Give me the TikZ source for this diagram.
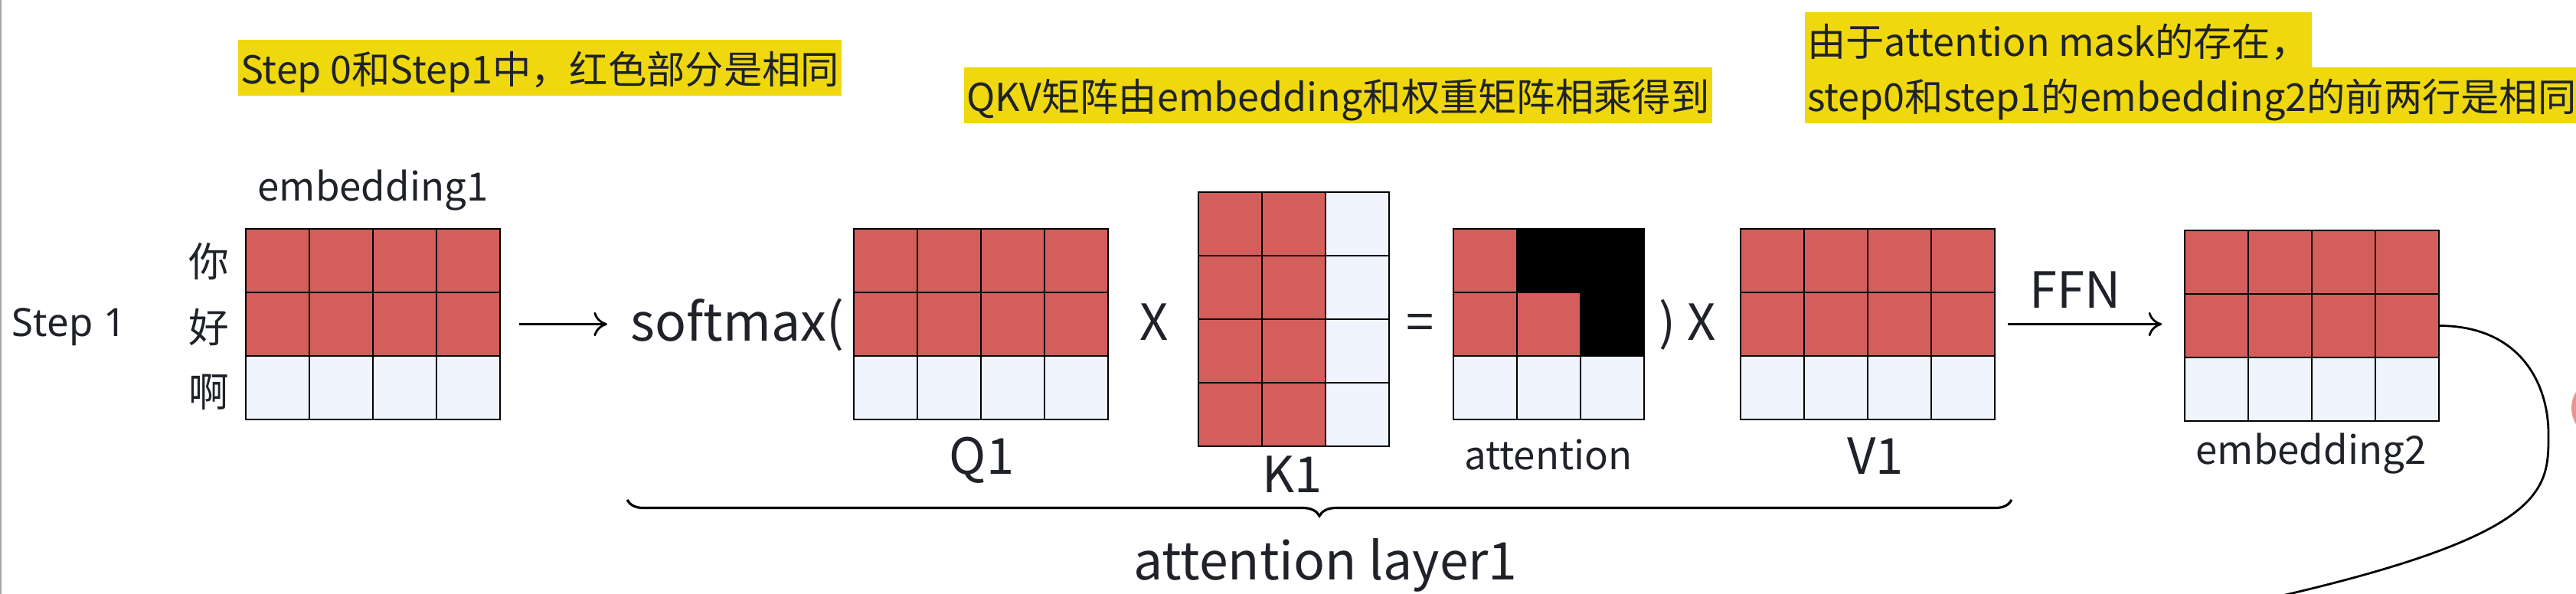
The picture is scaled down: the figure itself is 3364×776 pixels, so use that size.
\documentclass[tikz,border=0pt]{standalone}
\usepackage{fontspec}
\newfontfamily\cjk{Noto Sans CJK SC}
\newfontfamily\stepfont{Noto Sans}
\usetikzlibrary{arrows.meta,decorations.pathreplacing}
\definecolor{cellred}{HTML}{D45E5C}
\definecolor{cellblue}{HTML}{EFF4FD}
\definecolor{hlyellow}{HTML}{F0D80F}
\definecolor{ink}{HTML}{1F2329}
\tikzset{
  redcell/.style={fill=cellred, draw=black, line width=0.6pt},
  bluecell/.style={fill=cellblue, draw=black, line width=0.6pt},
  maskcell/.style={fill=black, draw=black, line width=0.6pt},
  matbox/.style={inner sep=0pt, minimum width=3.32cm, minimum height=2.49cm},
  hl/.style={fill=hlyellow, anchor=base west, inner xsep=1pt, inner ysep=0pt,
    text height=0.58cm, text depth=0.15cm, font=\cjk\fontsize{14.3pt}{18pt}\selectfont},
  midtxt/.style={inner sep=0pt, anchor=base, font=\cjk\fontsize{14.5pt}{18pt}\selectfont},
  bigtxt/.style={inner sep=0pt, anchor=base, font=\cjk\fontsize{18.5pt}{22pt}\selectfont},
  hugetxt/.style={inner sep=0pt, anchor=base, font=\cjk\fontsize{19.3pt}{23pt}\selectfont},
  arrow/.style={line width=0.8pt, -{To[length=5pt, width=9pt]}},
  link/.style={line width=0.8pt},
  underbrace/.style={line width=0.9pt, decorate, decoration={brace, mirror, amplitude=6pt}}
}
% 4 x 3 grid, first two rows red
\NewDocumentCommand\tokenmat{m m m}{%
  \foreach \c in {0,...,3}{
    \foreach \r in {0,1}
      \draw[redcell] (#2+83*\c,#3+83*\r) rectangle ++(83,83);
    \draw[bluecell] (#2+83*\c,#3+166) rectangle ++(83,83);
  }
  \node[matbox] (#1) at (#2+166,#3+124.5) {};
}

\begin{document}
\begin{tikzpicture}[x=0.01cm, y=-0.01cm, text=ink]
  \useasboundingbox (0,0) rectangle (3364,776);
  \draw[gray!70, line width=0.8pt] (1,0) -- (1,776);
  \fill[cellred!45!pink] (3398,533) circle (40);

  % notes
  \node[hl] (note1) at (310,110) {Step 0和Step1中，红色部分是相同};
  \node[hl] (note2) at (1258,146) {QKV矩阵由embedding和权重矩阵相乘得到};
  \node[hl] (note3a) at (2356,74) {由于attention mask的存在，};
  \node[hl] (note3b) at (2356,146) {step0和step1的embedding2的前两行是相同};

  % input
  \node[anchor=base, inner sep=0pt, font=\stepfont\fontsize{14.5pt}{17pt}\selectfont] (step) at (90,439) {Step 1};
  \foreach \ch [count=\i from 0] in {你,好,啊}
    \node[inner sep=0pt, font=\cjk\fontsize{15pt}{18pt}\selectfont] (row\i) at (273,342+85*\i) {\ch};
  \tokenmat{emb1}{321}{299}
  \node[midtxt] (emb1lab) at (487,262) {embedding1};

  % attention layer
  \node[hugetxt, anchor=base west] (softmax) at (823,445) {softmax(};
  \tokenmat{q1}{1115}{299}
  \node[bigtxt] (q1lab) at (1282,619) {Q1};
  \node[bigtxt] (times1) at (1507,444) {X};
  \foreach \r in {0,...,3}{
    \foreach \c in {0,1}
      \draw[redcell] (1565+83*\c,251+83*\r) rectangle ++(83,83);
    \draw[bluecell] (1731,251+83*\r) rectangle ++(83,83);
  }
  \node[matbox, minimum width=2.49cm, minimum height=3.32cm] (k1) at (1689.5,417) {};
  \node[bigtxt] (k1lab) at (1688,643) {K1};
  \node[bigtxt] (eq) at (1855,444) {=};
  \foreach \c/\r/\s in {1/0/maskcell, 2/0/maskcell, 2/1/maskcell, 0/0/redcell, 0/1/redcell,
      1/1/redcell, 0/2/bluecell, 1/2/bluecell, 2/2/bluecell}
    \draw[\s] (1898+83*\c,299+83*\r) rectangle ++(83,83);
  \node[matbox, minimum width=2.49cm] (att) at (2022.5,423.5) {};
  \node[midtxt] (attlab) at (2022,613) {attention};
  \node[bigtxt, anchor=base west] (times2) at (2166,444) {) X};
  \tokenmat{v1}{2273}{299}
  \node[bigtxt] (v1lab) at (2449,619) {V1};

  % output
  \tokenmat{emb2}{2853}{301}
  \node[midtxt] (emb2lab) at (3018,606) {embedding2};
  \node[bigtxt] (ffn) at (2710,402) {FFN};

  \draw[arrow, shorten <=0.24cm, shorten >=0.3cm] (emb1.east) -- (emb1.east -| softmax.west);
  \draw[arrow, shorten <=0.16cm, shorten >=0.29cm] (v1.east) -- (v1.east -| emb2.west);

  \coordinate (braceL) at (819,653);
  \coordinate (braceR) at (2627,653);
  \draw[underbrace] (braceL) -- (braceR);
  \node[hugetxt] (layer) at (1731,757) {attention layer1};

  \draw[link] (emb2.east) .. controls (3290,426) and (3328,500) .. (3328,567)
    .. controls (3328,640) and (3330,700) .. (2950,785);
\end{tikzpicture}
\end{document}
